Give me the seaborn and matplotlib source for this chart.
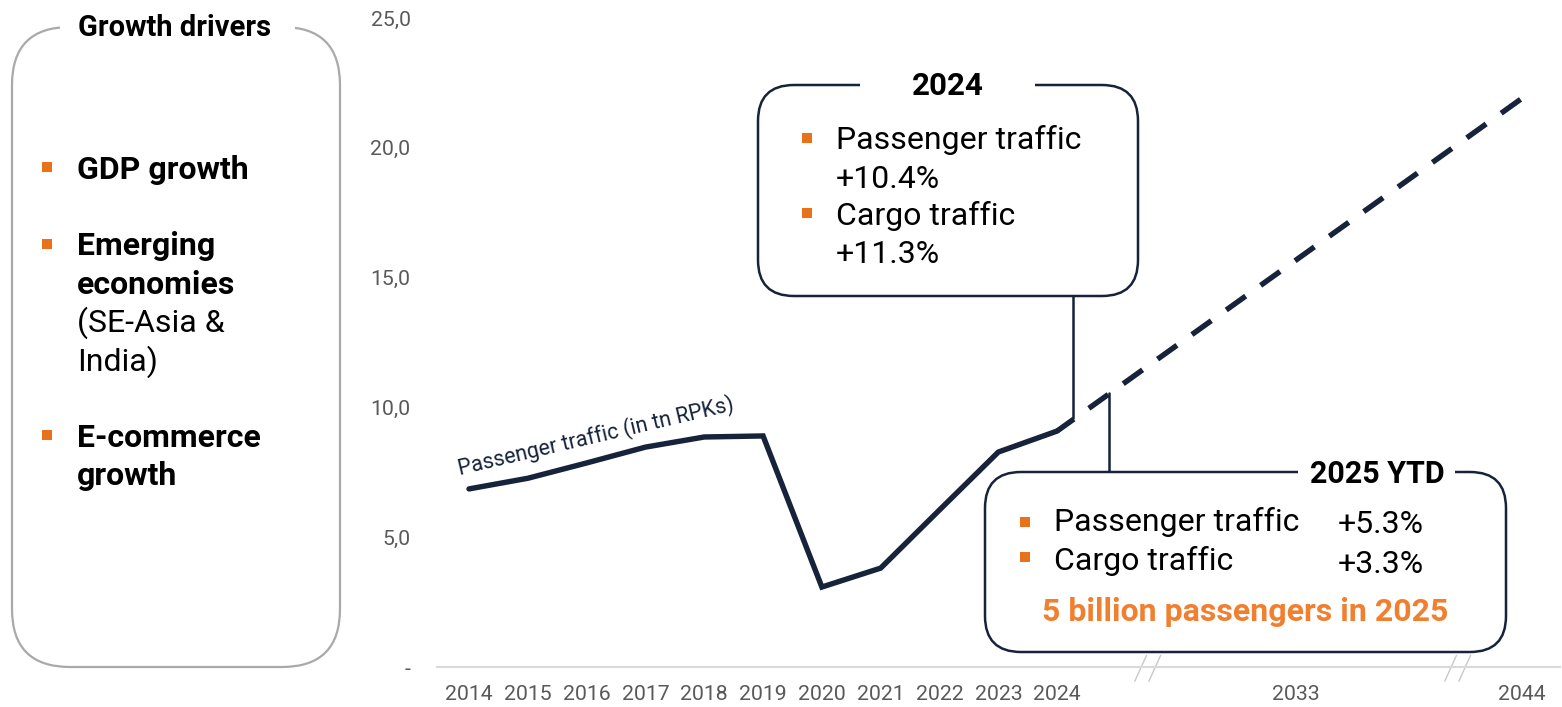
import numpy as np
import pandas as pd
import matplotlib
matplotlib.use("Agg")
import matplotlib.pyplot as plt
import matplotlib.transforms as mtransforms
from matplotlib.patches import FancyBboxPatch, Rectangle
import seaborn as sns

# ---------------- data ----------------
years = ["2014", "2015", "2016", "2017", "2018", "2019", "2020", "2021", "2022", "2023", "2024"]
traffic = [6.86, 7.27, 7.86, 8.47, 8.86, 8.90, 3.08, 3.81, 6.05, 8.28, 9.09]
forecast_years = ["2024", "2044"]
forecast = [9.09, 21.9]
xtick_labels = years + ["2033", "2044"]
ytick_values = [0, 5, 10, 15, 20, 25]
ytick_labels = ["-", "5,0", "10,0", "15,0", "20,0", "25,0"]
series_label = "Passenger traffic (in tn RPKs)"
box_2024_title = "2024"
box_2024_lines = ["Passenger traffic", "+10.4%", "Cargo traffic", "+11.3%"]
box_2025_title = "2025 YTD"
box_2025_items = ["Passenger traffic", "Cargo traffic"]
box_2025_values = ["+5.3%", "+3.3%"]
box_2025_note = "5 billion passengers in 2025"
drivers_title = "Growth drivers"

# ---------------- style ----------------
NAVY = "#16233A"
ORANGE = "#E8711A"
ORANGE_TXT = "#F07F2F"
GRAY_TXT = "#595959"
AXIS_GRAY = "#D9D9D9"
BOX_GRAY = "#A9A9A9"

sns.set_theme(style="white")
plt.rcParams["font.family"] = ["Roboto", "DejaVu Sans"]

W, H = 1562, 707
fig = plt.figure(figsize=(W / 100, H / 100), dpi=100)
fig.patch.set_facecolor("white")

# pixel transform (origin top-left) for layout elements
PX = mtransforms.Affine2D().scale(1 / W, -1 / H).translate(0, 1) + fig.transFigure

ax_left, ax_right, ax_top, ax_bottom = 437, 1560, 18, 667
ax = fig.add_axes([ax_left / W, (H - ax_bottom) / H, (ax_right - ax_left) / W, (ax_bottom - ax_top) / H])

# category positions (broken axis after 2024)
pos = {y: i for i, y in enumerate(years)}
pos["2033"] = 14.06
pos["2044"] = 17.9

df_hist = pd.DataFrame({"x": [pos[y] for y in years], "v": traffic})
df_fc = pd.DataFrame({"x": [pos[y] for y in forecast_years], "v": forecast})

sns.lineplot(data=df_hist, x="x", y="v", ax=ax, color=NAVY, linewidth=3.9,
             clip_on=False, solid_joinstyle="miter", zorder=3)
sns.lineplot(data=df_fc, x="x", y="v", ax=ax, color=NAVY, linewidth=3.9,
             linestyle=(0.6, (4.4, 3.4)), clip_on=False, zorder=3)

ax.set_xlim(-0.544, 18.55)
ax.set_ylim(0, 25)
ax.set_xticks([pos[y] for y in xtick_labels])
ax.set_xticklabels(xtick_labels)
ax.set_yticks(ytick_values)
ax.set_yticklabels(ytick_labels)
ax.tick_params(axis="x", length=0, pad=13, labelsize=15.3, labelcolor=GRAY_TXT)
ax.tick_params(axis="y", length=0, pad=19, labelsize=15.3, labelcolor=GRAY_TXT)
ax.set_xlabel("")
ax.set_ylabel("")
for s in ["top", "right", "left"]:
    ax.spines[s].set_visible(False)
ax.spines["bottom"].set_color(AXIS_GRAY)
ax.spines["bottom"].set_linewidth(1.5)
ax.grid(False)
ax.set_facecolor("none")

# axis break marks
for bx in [11.58, 16.85]:
    for off in [-0.16, 0.08]:
        ax.plot([bx + off - 0.1, bx + off + 0.1], [-0.55, 0.45], color="#C8C8C8",
                lw=1.0, clip_on=False, zorder=2)

# series label
ax.text(-0.15, 7.4, series_label, rotation=13.3, rotation_mode="anchor",
        ha="left", va="baseline", fontsize=15.5, color=NAVY)

# ---------------- annotation boxes ----------------
def rbox(x0, y0, x1, y1, r, ec, lw):
    p = FancyBboxPatch((x0, y0), x1 - x0, y1 - y0,
                       boxstyle=f"round,pad=0,rounding_size={r}",
                       transform=PX, fc="white", ec=ec, lw=lw, zorder=5)
    fig.add_artist(p)

def gap(x0, x1, y):
    fig.add_artist(Rectangle((x0, y - 4), x1 - x0, 8, transform=PX, fc="white",
                             ec="none", zorder=6))

def bullet(cx, cy, s=9.5):
    fig.add_artist(Rectangle((cx - s / 2, cy - s / 2), s, s, transform=PX,
                             fc=ORANGE, ec="none", zorder=7))

def txt(x, y, s, size=23, weight="normal", color="black", ha="left"):
    fig.text(x, y, s, transform=PX, fontsize=size, fontweight=weight, color=color,
             ha=ha, va="baseline", zorder=8)

# left box: growth drivers
rbox(12, 27, 340, 667, 58, BOX_GRAY, 1.6)
gap(60, 295, 27)
txt(175, 36, drivers_title, size=21, weight="bold", ha="center")
bullet(47, 167)
txt(77, 179, "GDP growth", weight="bold")
bullet(47, 244)
txt(77, 255, "Emerging", weight="bold")
txt(77, 294, "economies", weight="bold")
txt(77, 332, "(SE-Asia &")
txt(77, 371, "India)")
bullet(47, 435)
txt(77, 447, "E-commerce", weight="bold")
txt(77, 485, "growth", weight="bold")

# 2024 box
rbox(758, 85, 1138, 296, 36, NAVY, 1.8)
gap(860, 1035, 85)
txt(948, 95, box_2024_title, size=22.5, weight="bold", ha="center")
bullet(807, 138)
txt(836, 149, box_2024_lines[0])
txt(836, 188, box_2024_lines[1])
bullet(807, 213)
txt(836, 225, box_2024_lines[2])
txt(836, 263, box_2024_lines[3])
fig.add_artist(plt.Line2D([1073, 1073], [296, 418], transform=PX, color=NAVY, lw=1.8, zorder=4))

# 2025 box
rbox(985, 472, 1506, 652, 36, NAVY, 1.8)
gap(1298, 1455, 472)
txt(1377, 483, box_2025_title, size=22, weight="bold", ha="center")
bullet(1025, 522)
txt(1054, 531, box_2025_items[0])
txt(1338, 533, box_2025_values[0])
bullet(1025, 557)
txt(1054, 570, box_2025_items[1])
txt(1338, 573, box_2025_values[1])
txt(1245, 621, box_2025_note, weight="bold", color=ORANGE_TXT, ha="center")
fig.add_artist(plt.Line2D([1109, 1109], [393, 472], transform=PX, color=NAVY, lw=1.8, zorder=4))

fig.savefig("out.png", dpi=100, facecolor="white")
